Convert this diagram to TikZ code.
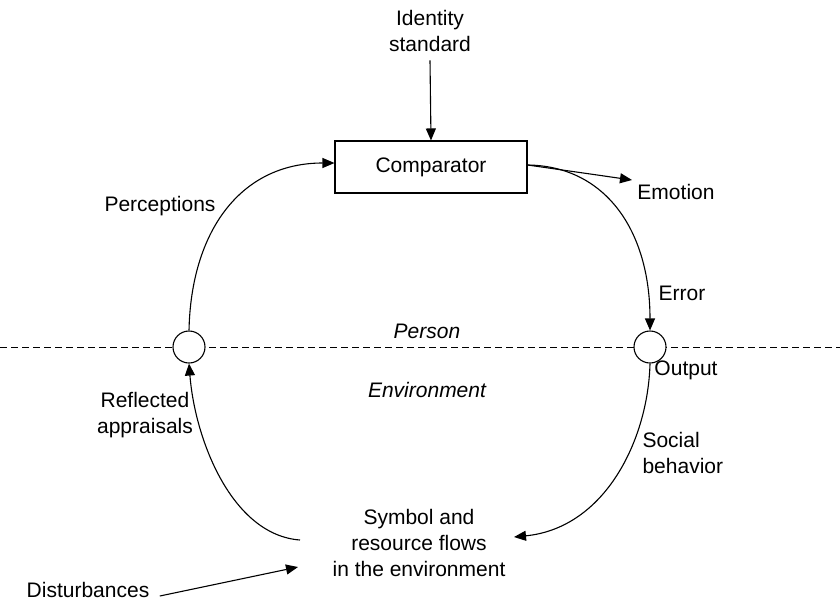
\documentclass[tikz,border=0pt]{standalone}
\usepackage{fontspec}
\setmainfont{Liberation Sans}
\usetikzlibrary{arrows.meta,calc}
\begin{document}
\begin{tikzpicture}[x=1pt,y=-1pt,
  font=\fontsize{21}{26}\selectfont,
  line width=1.1pt,
  conn/.style={-{Triangle[length=12pt,width=10pt]}},
  lbl/.style={inner sep=0pt,align=center},
  junction/.style={circle,draw,minimum size=32pt,inner sep=0pt},
  divider/.style={dashed,dash pattern=on 7pt off 4pt,line width=0.9pt}]
\useasboundingbox (0,0) rectangle (840,605);

% boundary between person and environment
\draw[divider] (0,347) -- (840,347);

% nodes
\node[lbl] (id) at (430,31) {Identity\\standard};
\node[draw,minimum width=192pt,minimum height=52pt,inner sep=0pt] (comp) at (431,167) {Comparator};
\node[junction,fill=white] (lc) at (189,347) {};
\node[junction,fill=white] (rc) at (650,347) {};
\node[lbl] (sym) at (419,543) {Symbol and\\resource flows\\in the environment};
\node[lbl] (dist) at (88,590) {Disturbances};

\node[lbl] (perc) at (160,206) {Perceptions};
\node[lbl] (emo) at (676,192) {Emotion};
\node[lbl] (err) at (682,293) {Error};
\node[lbl,font=\fontsize{21}{26}\selectfont\itshape] (person) at (427,331) {Person};
\node[lbl,font=\fontsize{21}{26}\selectfont\itshape] (env) at (427,390) {Environment};
\node[lbl] (out) at (686,370) {Output};
\node[lbl] (refl) at (145,415) {Reflected\\appraisals};
\node[lbl,align=left,anchor=west] (soc) at (642,453) {Social\\behavior};

% free ends of connectors
\coordinate (emotip) at (632,180);
\coordinate (reflstart) at (300,540);
\coordinate (soctip) at (514,537);
\coordinate (disttip) at (298,567);

% connectors
\draw[conn] ($(id.south)+(0,8)$) -- (comp.north);
\draw[conn] (lc.north) .. controls (191,232) and (240,163) .. ($(comp.west)+(0,-4)$);
\draw[conn] ($(comp.east)+(0,-2)$) -- (emotip);
\draw[conn] ($(comp.east)+(0,-2)$) .. controls (605,166) and (650,230) .. (rc.north);
\draw[conn] (rc.south) .. controls (648,440) and (605,528) .. (soctip);
\draw[conn] (reflstart) .. controls (232,535) and (195,440) .. (lc.south);
\draw[conn] (dist.east) ++(10,6) -- (disttip);
\end{tikzpicture}
\end{document}
